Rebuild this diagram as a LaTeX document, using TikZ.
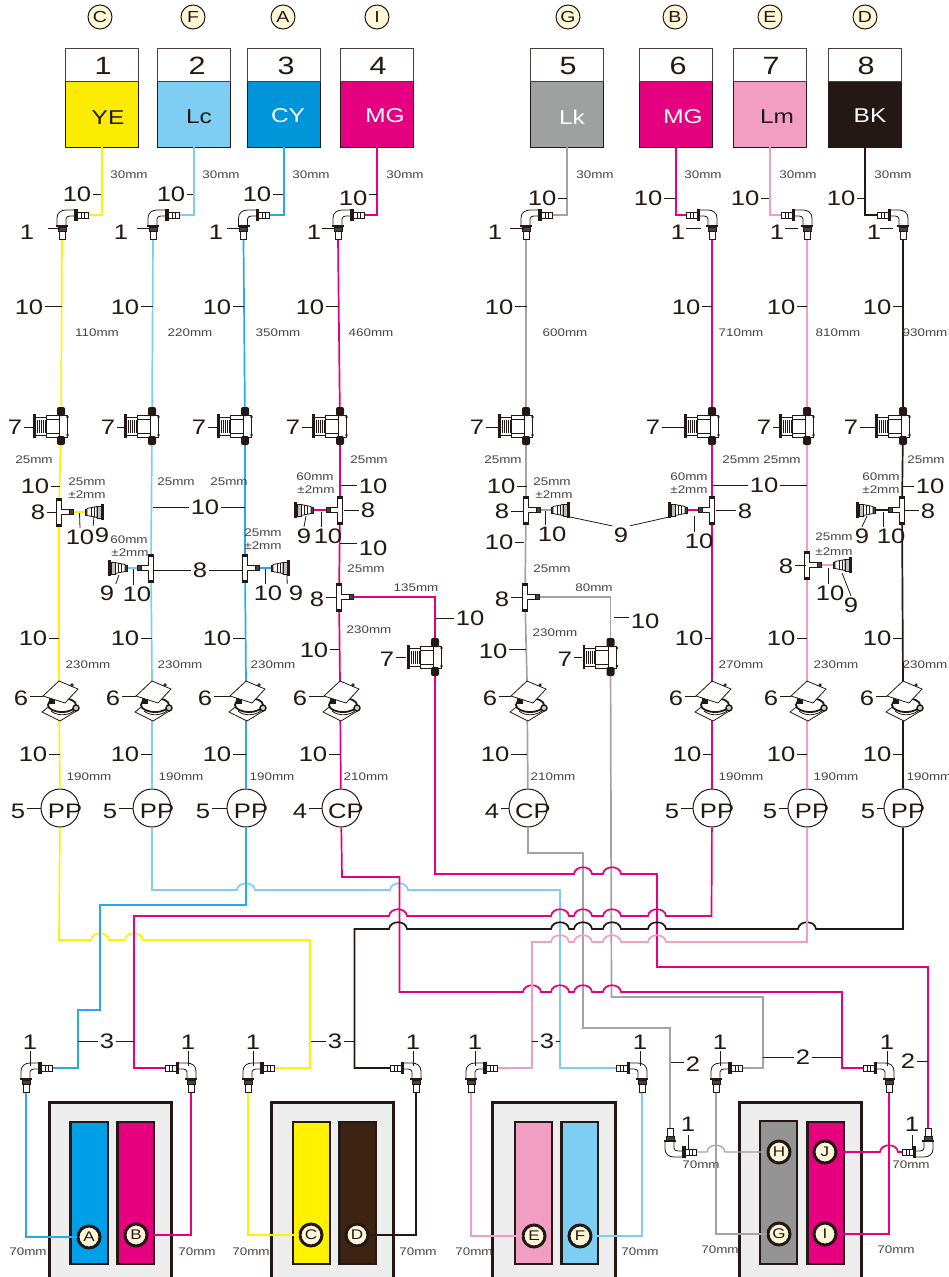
\documentclass[tikz,border=0pt]{standalone}
\usepackage{fontspec}
\setmainfont{Liberation Sans}
\newfontfamily\lab[FakeStretch=1.22]{Liberation Sans}
\definecolor{ink}{HTML}{231815}
\definecolor{soft}{HTML}{4A4040}
\definecolor{cye}{HTML}{FFF100}
\definecolor{clc}{HTML}{7ECEF4}
\definecolor{ccy}{HTML}{29ABE2}
\definecolor{cmg}{HTML}{E6007F}
\definecolor{cgr}{HTML}{A3A3A3}
\definecolor{cpk}{HTML}{F19EC2}
\definecolor{cream}{HTML}{FFF8D8}
\newcounter{lbn}
\tikzset{
 big/.style={font=\lab\fontsize{21}{21}\selectfont,text=ink,inner sep=1.5pt},
 tnum/.style={font=\lab\fontsize{25}{25}\selectfont,text=ink,inner sep=0pt},
 small/.style={font=\lab\fontsize{11}{11}\selectfont,text=soft,inner sep=0pt},
 lead/.style={draw=ink,line width=.8pt},
 pipe/.style={line width=1.7pt,line join=miter},
 ft/.style={draw=ink,line width=.8pt},
 pumpc/.style={circle,draw=ink,line width=1pt,fill=white,minimum size=38pt,inner sep=0pt},
 tagc/.style={circle,draw=ink,line width=1pt,fill=cream,minimum size=24pt,inner sep=0pt,font=\lab\fontsize{16}{16}\selectfont,text=ink},
 slotc/.style={circle,draw=ink,line width=3pt,fill=cream,minimum size=22pt,inner sep=0pt,font=\lab\fontsize{14}{14}\selectfont,text=ink},
 tankc/.style={draw=ink,line width=.9pt,minimum width=73pt,minimum height=66pt,inner sep=0pt},
 tanktop/.style={draw=soft,line width=.9pt,fill=white,minimum width=73pt,minimum height=33pt,inner sep=0pt},
 tanktxt/.style={font=\lab\fontsize{20}{20}\selectfont,inner sep=0pt},
 slot/.style={draw=ink,line width=2.6pt},
 casee/.style={draw=ink,line width=3pt,fill=black!7}
}
\newcommand\mm[3]{\stepcounter{lbn}\node[small] (mm\thelbn) at (#1,#2) {#3};}
\newcommand\lead[6]{\stepcounter{lbn}\node[big] (lb\thelbn) at (#1,#2) {#3};\coordinate (le\thelbn) at (#5,#6);\draw[lead] (lb\thelbn.#4 |- le\thelbn) -- (le\thelbn);}
\newcommand\leadV[5]{\stepcounter{lbn}\node[big] (lb\thelbn) at (#1,#2) {#3};\coordinate (le\thelbn) at (#1,#5);\coordinate (ls\thelbn) at (#1,#4);\draw[lead] (ls\thelbn) -- (le\thelbn);}
\newcommand\leadG[5]{\stepcounter{lbn}\node[big] (lb\thelbn) at (#1,232) {#2};\coordinate (ls\thelbn) at (#3,#5);\coordinate (le\thelbn) at (#4,#5);\draw[lead] (ls\thelbn) -- (le\thelbn);}
\newcommand\hopR[2]{-- ({#1-9},#2) .. controls ({#1-8},{#2-9}) and ({#1+8},{#2-9}) .. ({#1+9},#2)}
\newcommand\hopL[2]{-- ({#1+9},#2) .. controls ({#1+8},{#2-9}) and ({#1-8},{#2-9}) .. ({#1-9},#2)}
\newcommand\elbow[5]{\begin{scope}[shift={(#2,#3)},xscale=#4,yscale=#5]
 \draw[ft,fill=white] (14,-5) -- (4,-5) .. controls (-1,-5) and (-5,-2) .. (-5,3) -- (-5,11) -- (4,11) -- (4,4) .. controls (4,2) and (6,1) .. (8,1) -- (14,1) -- cycle;
 \draw[ft,fill=white] (14,-3) rectangle (26,3);
 \fill[ink] (12,-6) rectangle (15.5,6);
 \draw[ink,line width=.7pt] (19,-3) -- (19,3) (22,-3) -- (22,3);
 \fill[ink] (-6,10) rectangle (6,12);
 \draw[ft,fill=soft] (-4,12) rectangle (4,16);
 \draw[ft,fill=white] (-3,16) rectangle (3,24);
\end{scope}}
\newcommand\damper[2]{\begin{scope}[shift={(#1,#2)}]
 \draw[ft,fill=white] (-15,-11) rectangle (6,11);
 \draw[ink,line width=.7pt] (-15,-7) -- (-2,-7) (-15,7) -- (-2,7) (-2,-11) -- (-2,11);
 \draw[ft,fill=white] (-26,-9) rectangle (-15,9);
 \foreach \s in {-24,-22,-20,-18,-16}{\draw[ink,line width=1pt] (\s,-6.5) -- (\s,6.5);}
 \fill[ink] (-28,-12) rectangle (-25.5,12);
 \fill[ink,rounded corners=2pt] (-4,-19) rectangle (4,-10);
 \fill[ink,rounded corners=2pt] (-4,10) rectangle (4,19);
 \fill[ink] (6.5,-9) circle (1.4);\fill[ink] (6.5,9) circle (1.4);
\end{scope}}
\newcommand\teep[3]{\begin{scope}[shift={(#1,#2)},xscale=#3]
 \draw[ft,fill=white] (0,-2.5) rectangle (10,2.5);
 \draw[draw=ink,line width=1pt,fill=soft] (10,-2.5) rectangle (14,2.5);
 \draw[draw=ink,line width=1pt,fill=white] (-2.5,-14) rectangle (2.5,14);
 \fill[ink] (-2.8,-14.5) rectangle (2.8,-11.5);\fill[ink] (-2.8,11.5) rectangle (2.8,14.5);
 \fill[white] (-1.6,-2) -- (3,-2) -- (5,0) -- (3,2) -- (-1.6,2) -- cycle;
\end{scope}}
\newcommand\capp[3]{\begin{scope}[shift={(#1,#2)},xscale=#3]
 \draw[ft,fill=soft] (0,-3) rectangle (2,3);
 \draw[ft,fill=white] (2,-3.5) -- (12,-5.5) -- (12,5.5) -- (2,3.5) -- cycle;
 \draw[ink,line width=.6pt] (6,-4.2) -- (6,4.2) (9,-5) -- (9,5);
 \draw[ft,fill=black!25] (12,-6) rectangle (16,6);
 \fill[ink] (16,-8) rectangle (19,8);
\end{scope}}
\newcommand\valve[2]{\begin{scope}[shift={(#1,#2)}]
 \draw[ft,fill=white] (-17,31) -- (-7,23) -- (10,23) -- (19,29) -- (1,40) -- cycle;
 \draw[draw=ink,line width=1.8pt,fill=white] (3,24) ellipse (14 and 7);
 \draw[ink,line width=.8pt] (-8,30) .. controls (-2,35) and (8,35) .. (15,30);
 \draw[draw=ink,line width=1.4pt,fill=black!20] (17,27) circle (3);
 \fill[ink] (-10,17) rectangle (-4,23);
 \draw[ft,fill=white] (0,0) -- (19,8) -- (6,22) -- (-16,15) -- cycle;
 \draw[ft,fill=white] (13,4) circle (1.2);
\end{scope}}
\begin{document}
\begin{tikzpicture}[x=1pt,y=-1pt]
\useasboundingbox (0,0) rectangle (949,1277);
\clip (0,0) rectangle (949,1277);
% tags
\foreach \n/\xx/\tt in {a/100/C,b/193/F,c/283/A,d/377/I,e/568/G,f/675/B,g/770/E,h/865/D}{\node[tagc] (tag\n) at (\xx,17) {\tt};}
% tanks
\foreach \n/\xx/\nx/\num/\col in {1/102/103/1/FAEB00,2/194/197/2/7ECEF4,3/284/286/3/0095D9,4/377/378/4/E4007F,5/567/568/5/9FA0A0,6/676/678/6/E4007F,7/770/771/7/F19EC2,8/865/866/8/231815}{
 \definecolor{tk}{HTML}{\col}
 \node[tankc,fill=tk] (t\n) at (\xx,114) {};
 \node[tanktop] (n\n) at (\xx,64.5) {};
 \node[tnum] (nn\n) at (\nx,66) {\num};
}
\node[tanktxt,text=ink] (tx1) at (108,118) {YE};
\node[tanktxt,text=ink] (tx2) at (199,117) {Lc};
\node[tanktxt,text=white] (tx3) at (288,116) {CY};
\node[tanktxt,text=white] (tx4) at (385,116) {MG};
\node[tanktxt,text=white] (tx5) at (572,117) {Lk};
\node[tanktxt,text=white] (tx6) at (683,117) {MG};
\node[tanktxt,text=ink] (tx7) at (777,117) {Lm};
\node[tanktxt,text=white] (tx8) at (870,116) {BK};
% anchors of components
\foreach \n/\xx/\xs in {1/62/1,2/153/1,3/243.5/1,4/338/1,5/526/1,6/712/-1,7/807/-1,8/903/-1}{\coordinate (e\n-h) at ({\xx+26*\xs},215);\coordinate (e\n-v) at (\xx,239);}
\foreach \n/\xx in {1/61,2/152,3/245,4/340,5/526,6/712,7/807,8/903,9/435,10/610.5}{\coordinate (d\n) at (\xx,{\n>8 ? 657 : 426});}
\coordinate (T1) at (59,512);\coordinate (T2) at (151,568);\coordinate (T3) at (245,568);\coordinate (T4) at (340,510);\coordinate (T5) at (526,510);\coordinate (T6) at (712,510);\coordinate (T7) at (807,565);\coordinate (T8) at (902,510);\coordinate (T4b) at (339,597);\coordinate (T5b) at (525,597);
\coordinate (c1) at (85,512);\coordinate (c2) at (127,568);\coordinate (c3) at (271,568);\coordinate (c4) at (313,510);\coordinate (c5) at (551,510);\coordinate (c6) at (687,510);\coordinate (c7) at (833,565);\coordinate (c8) at (875,510);
\foreach \n/\xx in {1/59,2/152,3/246,4/340,5/527,6/712,7/807,8/903}{\coordinate (v\n) at (\xx,681);}
\foreach \n/\xx in {1/60,2/152,3/246,4/341,5/528,6/712,7/807,8/903}{\node[pumpc] (p\n) at (\xx,808) {};}
% bottom cases
\draw[casee] (49,1102) rectangle (171,1285);
\draw[casee] (271,1102) rectangle (393,1285);
\draw[casee] (492,1102) rectangle (615,1285);
\draw[casee] (739,1102) rectangle (861,1285);
\draw[slot,fill={rgb,255:red,0;green,160;blue,233}] (70.5,1122) rectangle (108,1264);
\draw[slot,fill=cmg] (117.5,1122) rectangle (154,1264);
\draw[slot,fill=cye] (293,1122) rectangle (330,1264);
\draw[slot,fill={rgb,255:red,62;green,35;blue,18}] (339.5,1122) rectangle (376,1264);
\draw[slot,fill=cpk] (515,1122) rectangle (552,1264);
\draw[slot,fill=clc] (561.5,1122) rectangle (598,1264);
\draw[slot,fill=black!42] (760,1121) rectangle (797,1264);
\draw[slot,fill=cmg] (807.5,1122) rectangle (844,1264);
\node[slotc] (sA) at (89,1237) {A};\node[slotc] (sB) at (136,1235) {B};
\node[slotc] (sC) at (311,1235) {C};\node[slotc] (sD) at (357,1235) {D};
\node[slotc] (sE) at (534,1236) {E};\node[slotc] (sF) at (580,1236) {F};
\node[slotc] (sH) at (779,1152) {H};\node[slotc] (sJ) at (825,1152) {J};
\node[slotc] (sG) at (779,1234) {G};\node[slotc] (sI) at (825,1234) {I};
% bottom elbow anchors
\coordinate (eA-h) at (51,1068);\coordinate (eA-v) at (26,1092);
\coordinate (eB-h) at (167,1068);\coordinate (eB-v) at (191,1092);
\coordinate (eC-h) at (273,1068);\coordinate (eC-v) at (248,1092);
\coordinate (eD-h) at (391,1068);\coordinate (eD-v) at (416,1092);
\coordinate (eE-h) at (496,1068);\coordinate (eE-v) at (471,1092);
\coordinate (eF-h) at (617,1068);\coordinate (eF-v) at (642,1092);
\coordinate (eG-h) at (741,1068);\coordinate (eG-v) at (716,1092);
\coordinate (eI-h) at (864,1068);\coordinate (eI-v) at (889,1092);
\coordinate (eH-h) at (695,1152);\coordinate (eH-v) at (670,1128);
\coordinate (eJ-h) at (903,1152);\coordinate (eJ-v) at (928,1128);
% PIPES
\draw[pipe,cye] (t1.south) |- (e1-h);
\draw[pipe,clc] (t2.south) |- (e2-h);
\draw[pipe,ccy] (t3.south) |- (e3-h);
\draw[pipe,cmg] (t4.south) |- (e4-h);
\draw[pipe,cgr] (t5.south) |- (e5-h);
\draw[pipe,cmg] (t6.south) |- (e6-h);
\draw[pipe,cpk] (t7.south) |- (e7-h);
\draw[pipe,ink] (t8.south) |- (e8-h);
\draw[pipe,cye] (e1-v) -- (d1) -- (T1) -- (v1) -- (p1);
\draw[pipe,clc] (e2-v) -- (d2) -- (T2) -- (v2) -- (p2);
\draw[pipe,ccy] (e3-v) -- (d3) -- (T3) -- (v3) -- (p3);
\draw[pipe,cmg] (e4-v) -- (d4) -- (T4) -- (T4b) -- (v4) -- (p4);
\draw[pipe,cgr] (e5-v) -- (d5) -- (T5) -- (T5b) -- (v5) -- (p5);
\draw[pipe,cmg] (e6-v) -- (d6) -- (T6) -- (v6) -- (p6);
\draw[pipe,cpk] (e7-v) -- (d7) -- (T7) -- (v7) -- (p7);
\draw[pipe,ink] (e8-v) -- (d8) -- (T8) -- (v8) -- (p8);
% trunk routing
\draw[pipe,cgr] (p5) |- (583,853) -- (583,1028) -| (eH-v);
\draw[pipe,cgr] (d10) -- (611.5,997) -- (763,997) -- (763,1068) -- (eG-h);
\draw[pipe,cye] (p1) -- (59,940) \hopR{100}{940} \hopR{134}{940} -- (310,940) -- (310,1068) -- (eC-h);
\draw[pipe,clc] (p2) -- (152,890) \hopR{246}{890} \hopR{399}{890} -- (560,890) -- (560,1068) -- (eF-h);
\draw[pipe,ccy] (p3) -- (246,905) -- (100,905) -- (100,1010) -- (78,1010) -- (78,1068) -- (eA-h);
\draw[pipe,cmg] (p4) -- (342,877) -- (399.5,877) -- (399.5,992) \hopR{532}{992} \hopR{560}{992} \hopR{583}{992} \hopR{612}{992} -- (842,992) -- (842,1068) -- (eI-h);
\draw[pipe,cmg] (d9) -- (435,874) \hopR{583}{874} \hopR{612}{874} -- (657,874) -- (657,967) -- (928,967) -- (eJ-v);
\draw[pipe,cmg] (p6) -- (711.5,916) \hopL{657}{916} \hopL{612}{916} \hopL{583}{916} \hopL{560}{916} \hopL{398}{916} -- (134,916) -- (134,1068) -- (eB-h);
\draw[pipe,ink] (p8) -- (903,929) \hopL{807}{929} \hopL{657}{929} \hopL{612}{929} \hopL{583}{929} \hopL{560}{929} \hopL{398}{929} -- (354.5,929) -- (354.5,1068) -- (eD-h);
\draw[pipe,cpk] (p7) -- (807,942) \hopL{657}{942} \hopL{612}{942} \hopL{583}{942} \hopL{560}{942} -- (532,942) -- (532,1068) -- (eE-h);
% branches
\draw[pipe,cye] (T1) -- (c1);
\draw[pipe,clc] (T2) -- (c2);
\draw[pipe,ccy] (T3) -- (c3);
\draw[pipe,cmg] (T4) -- (c4);
\draw[pipe,cgr] (T5) -- (c5);
\draw[pipe,cmg] (T6) -- (c6);
\draw[pipe,cpk] (T7) -- (c7);
\draw[pipe,ink] (T8) -- (c8);
\draw[pipe,cmg] (T4b) -| (d9);
\draw[pipe,cgr] (T5b) -| (d10);
% lower runs
\draw[pipe,ccy] (eA-v) |- (sA.west);
\draw[pipe,cmg] (eB-v) |- (sB.east);
\draw[pipe,cye] (eC-v) |- (sC.west);
\draw[pipe,ink] (eD-v) |- (sD.east);
\draw[pipe,cpk] (eE-v) |- (sE.west);
\draw[pipe,clc] (eF-v) |- (sF.east);
\draw[pipe,cgr] (eG-v) |- (sG.west);
\draw[pipe,cmg] (eI-v) |- (sI.east);
\draw[pipe,cgr,line width=1.3pt] (eH-h) \hopR{716}{1152} -- (sH.west);
\draw[pipe,cmg] (eJ-h) \hopL{889}{1152} -- (sJ.east);
% COMPONENTS
\elbow{x1}{62}{215}{1}{1}\elbow{x2}{153}{215}{1}{1}\elbow{x3}{243.5}{215}{1}{1}\elbow{x4}{338}{215}{1}{1}\elbow{x5}{526}{215}{1}{1}\elbow{x6}{712}{215}{-1}{1}\elbow{x7}{807}{215}{-1}{1}\elbow{x8}{903}{215}{-1}{1}
\elbow{xA}{26}{1068}{1}{1}\elbow{xB}{191}{1068}{-1}{1}\elbow{xC}{248}{1068}{1}{1}\elbow{xD}{416}{1068}{-1}{1}\elbow{xE}{471}{1068}{1}{1}\elbow{xF}{642}{1068}{-1}{1}\elbow{xG}{716}{1068}{1}{1}\elbow{xI}{889}{1068}{-1}{1}\elbow{xH}{670}{1152}{1}{-1}\elbow{xJ}{928}{1152}{-1}{-1}
\damper{61}{426}\damper{152}{426}\damper{245}{426}\damper{340}{426}\damper{526}{426}\damper{712}{426}\damper{807}{426}\damper{903}{426}\damper{435}{657}\damper{610.5}{657}
\teep{59}{512}{1}\teep{151}{568}{-1}\teep{245}{568}{1}\teep{340}{510}{-1}\teep{526}{510}{1}\teep{712}{510}{-1}\teep{807}{565}{1}\teep{902}{510}{-1}\teep{339}{597}{1}\teep{525}{597}{1}
\capp{85}{512}{1}\capp{127}{568}{-1}\capp{271}{568}{1}\capp{313}{510}{-1}\capp{551}{510}{1}\capp{687}{510}{-1}\capp{833}{565}{1}\capp{875}{510}{-1}
\foreach \xx in {59,152,246,340,527,712,807,903}{\valve{\xx}{681}}
% pump letters
\foreach \n/\xx/\tt in {1/65/PP,2/157/PP,3/251/PP,4/346/CP,5/533/CP,6/717/PP,7/812/PP,8/908/PP}{\node[big] (pt\n) at (\xx,811) {\tt};}
% LABELS: top row
\foreach \xx/\yy in {129/175,221/175,311/175,405/175,595/175,703/175,798/175,893/175}{\mm{\xx}{\yy}{30mm}}
\lead{77}{194}{10}{east}{101}{194}\lead{171}{194}{10}{east}{193}{194}\lead{257}{194}{10}{east}{283}{194}\lead{353}{198}{10}{east}{377}{194.5}
\lead{542}{198}{10}{east}{567}{198}\lead{648}{198}{10}{east}{675}{198}\lead{745}{198}{10}{east}{769}{198}\lead{841}{198}{10}{east}{865}{198}
\leadG{27}{1}{48}{60}{228}\leadG{121}{1}{137}{150}{228}\leadG{216}{1}{227}{240}{228}\leadG{314}{1}{322}{335}{228}\leadG{495}{1}{510}{524}{228}\leadG{678}{1}{686}{701}{228}\leadG{777}{1}{785}{798}{228}\leadG{874}{1}{880}{893}{228}
\lead{29}{307}{10}{east}{62}{306}\lead{125}{307}{10}{east}{153}{306}\lead{217}{307}{10}{east}{244}{306}\lead{310}{307}{10}{east}{339}{306}\lead{499}{307}{10}{east}{527}{306}\lead{686}{307}{10}{east}{712}{306}\lead{781}{307}{10}{east}{807}{306}\lead{877}{307}{10}{east}{903}{306}
\mm{97}{333}{110mm}\mm{190}{333}{220mm}\mm{278}{333}{350mm}\mm{371}{333}{460mm}\mm{565}{333}{600mm}\mm{741}{333}{710mm}\mm{838}{333}{810mm}\mm{925}{333}{930mm}
\lead{15}{427}{7}{east}{33}{427}\lead{108}{427}{7}{east}{124}{427}\lead{199}{427}{7}{east}{217}{427}\lead{293}{427}{7}{east}{312}{427}\lead{477}{427}{7}{east}{498}{427}\lead{653}{427}{7}{east}{684}{427}\lead{764}{427}{7}{east}{779}{427}\lead{851}{427}{7}{east}{875}{427}
% T zone left
\mm{34}{460}{25mm}\mm{87}{482}{25mm}\mm{87}{495}{±2mm}
\lead{35}{486}{10}{east}{60}{486}\lead{38}{512}{8}{east}{57}{512}
\node[big] (a10) at (80,537) {10};\coordinate (a10e) at (79.5,513);\draw[lead] (a10e) -- (a10.north);
\node[big] (a9) at (102,535) {9};\coordinate (a9e) at (94,516);\draw[lead] (a9e) -- (a9.north west);
\mm{176}{482}{25mm}\mm{229}{482}{25mm}
\node[big] (b10) at (205,507) {10};\coordinate (b10l) at (152.5,507);\coordinate (b10r) at (245,507);\draw[lead] (b10.west) -- (b10l);\draw[lead] (b10.east) -- (b10r);
\mm{129}{540}{60mm}\mm{130}{553}{±2mm}
\node[big] (b8) at (200,570) {8};\coordinate (b8l) at (154,570);\coordinate (b8r) at (242,570);\draw[lead] (b8.west) -- (b8l);\draw[lead] (b8.east) -- (b8r);
\node[big] (b9) at (107,593) {9};\coordinate (b9e) at (119,575);\draw[lead] (b9e) -- (b9.north east);
\node[big] (b10b) at (137,594) {10};\coordinate (b10c) at (133.5,569);\draw[lead] (b10c) -- (b10b.north -| b10c);
\mm{263}{533}{25mm}\mm{263}{546}{±2mm}
\node[big] (c10) at (268,593) {10};\coordinate (c10e) at (265,569);\draw[lead] (c10e) -- (c10.north -| c10e);
\node[big] (c9) at (296,593) {9};\coordinate (c9e) at (287,575);\draw[lead] (c9e) -- (c9.north west);
% col 4
\mm{369}{460}{25mm}\mm{315}{477}{60mm}\mm{316}{490}{±2mm}
\lead{373}{486}{10}{west}{341}{485}\lead{368}{510}{8}{west}{344}{510}
\node[big] (d9l) at (304,536) {9};\coordinate (d9e) at (306,516);\draw[lead] (d9e) -- (d9l.north);
\node[big] (d10l) at (328,536) {10};\coordinate (d10e) at (321.5,512);\draw[lead] (d10e) -- (d10l.north -| d10e);
\lead{373}{548}{10}{west}{340}{543}\mm{366}{569}{25mm}
\lead{317}{599}{8}{east}{336}{597}\mm{416}{588}{135mm}
\lead{470}{618}{10}{west}{436}{618}\mm{369}{630}{230mm}
\lead{314}{650}{10}{east}{340}{649}\lead{387}{659}{7}{east}{406}{657}
% col 5
\mm{503}{460}{25mm}\lead{501}{486}{10}{east}{527}{486}\mm{552}{482}{25mm}\mm{554}{495}{±2mm}
\lead{502}{511}{8}{east}{524}{511}
\node[big] (e10) at (552,534) {10};\coordinate (e10e) at (545,511);\draw[lead] (e10e) -- (e10.north -| e10e);
\node[big] (e9) at (621,535) {9};\coordinate (e9l) at (570,517);\coordinate (e9r) at (669,517);\draw[lead] (e9l) -- (e9.north west);\draw[lead] (e9.north east) -- (e9r);
\lead{499}{542}{10}{east}{524}{542}\mm{552}{569}{25mm}
\lead{502}{599}{8}{east}{523}{597}\mm{594}{588}{80mm}
\lead{645}{621}{10}{west}{614}{617}\mm{555}{633}{230mm}
\lead{493}{651}{10}{east}{526}{649}\lead{565}{659}{7}{east}{582}{657}
% col 6
\mm{741}{460}{25mm}\mm{689}{477}{60mm}\mm{689}{490}{±2mm}
\node[big] (f10) at (764,485) {10};\coordinate (f10l) at (713,485);\coordinate (f10r) at (807,485);\draw[lead] (f10.west) -- (f10l);\draw[lead] (f10.east) -- (f10r);
\lead{745}{511}{8}{west}{716}{510}
\node[big] (f10b) at (699,541) {10};\coordinate (f10c) at (694,516);\draw[lead] (f10c) -- (f10b.north -| f10c);
% col 7
\mm{782}{460}{25mm}\lead{786}{566}{8}{east}{806}{565}\mm{834}{537}{25mm}\mm{834}{552}{±2mm}
\node[big] (g10) at (830,593) {10};\coordinate (g10e) at (828,568);\draw[lead] (g10e) -- (g10.north -| g10e);
\node[big] (g9) at (851,605) {9};\coordinate (g9e) at (842,573);\draw[lead] (g9e) -- (g9.north);
% col 8
\mm{926}{460}{25mm}\mm{881}{477}{60mm}\mm{881}{490}{±2mm}
\lead{930}{486}{10}{west}{903}{486}\lead{928}{511}{8}{west}{905}{510}
\node[big] (h9) at (862,536) {9};\coordinate (h9e) at (867,516);\draw[lead] (h9e) -- (h9.north);
\node[big] (h10) at (891,536) {10};\coordinate (h10e) at (883,512);\draw[lead] (h10e) -- (h10.north -| h10e);
% lower rows
\lead{33}{638}{10}{east}{59}{638}\lead{125}{638}{10}{east}{152}{638}\lead{217}{638}{10}{east}{245}{638}\lead{689}{638}{10}{east}{712}{638}\lead{781}{638}{10}{east}{807}{638}\lead{877}{638}{10}{east}{903}{638}
\mm{88}{665}{230mm}\mm{180}{665}{230mm}\mm{273}{665}{230mm}\mm{741}{665}{270mm}\mm{836}{665}{230mm}\mm{925}{665}{230mm}
\lead{21}{698}{6}{east}{43}{696}\lead{113}{698}{6}{east}{136}{696}\lead{205}{698}{6}{east}{230}{696}\lead{300}{698}{6}{east}{324}{696}\lead{490}{698}{6}{east}{511}{696}\lead{676}{698}{6}{east}{696}{696}\lead{771}{698}{6}{east}{791}{696}\lead{867}{698}{6}{east}{887}{696}
\lead{33}{754}{10}{east}{60}{754}\lead{125}{754}{10}{east}{152}{754}\lead{217}{754}{10}{east}{246}{754}\lead{313}{754}{10}{east}{340}{754}\lead{495}{754}{10}{east}{527}{754}\lead{687}{754}{10}{east}{712}{754}\lead{781}{754}{10}{east}{807}{754}\lead{877}{754}{10}{east}{903}{754}
\mm{89}{777}{190mm}\mm{181}{777}{190mm}\mm{272}{777}{190mm}\mm{366}{777}{210mm}\mm{553}{777}{210mm}\mm{741}{777}{190mm}\mm{836}{777}{190mm}\mm{929}{777}{190mm}
\lead{18}{811}{5}{east}{41}{808}\lead{110}{811}{5}{east}{133}{808}\lead{203}{811}{5}{east}{227}{808}\lead{300}{811}{4}{east}{322}{808}\lead{492}{811}{4}{east}{509}{808}\lead{672}{811}{5}{east}{693}{808}\lead{770}{811}{5}{east}{788}{808}\lead{868}{811}{5}{east}{884}{808}
% bottom labels
\leadV{30}{1042}{1}{1051}{1066}\leadV{188}{1042}{1}{1051}{1066}\leadV{253}{1042}{1}{1051}{1066}\leadV{413}{1042}{1}{1051}{1066}\leadV{475}{1042}{1}{1051}{1066}\leadV{640}{1042}{1}{1051}{1066}\leadV{720}{1042}{1}{1051}{1066}\leadV{887}{1042}{1}{1051}{1066}
\leadV{688}{1124}{1}{1135}{1150}\leadV{912}{1124}{1}{1135}{1150}
\node[big] (k1) at (107,1041) {3};\coordinate (k1l) at (78,1041);\coordinate (k1r) at (134,1041);\draw[lead] (k1.west) -- (k1l);\draw[lead] (k1.east) -- (k1r);
\node[big] (k2) at (335,1041) {3};\coordinate (k2l) at (311,1041);\coordinate (k2r) at (355,1041);\draw[lead] (k2.west) -- (k2l);\draw[lead] (k2.east) -- (k2r);
\node[big] (k3) at (547,1041) {3};\coordinate (k3l) at (532,1041);\coordinate (k3r) at (560,1041);\draw[lead] (k3.west) -- (k3l);\draw[lead] (k3.east) -- (k3r);
\lead{693}{1064}{2}{west}{671}{1062}
\node[big] (k4) at (803,1057) {2};\coordinate (k4l) at (763,1057);\coordinate (k4r) at (842,1057);\draw[lead] (k4.west) -- (k4l);\draw[lead] (k4.east) -- (k4r);
\lead{908}{1061}{2}{east}{928}{1061}
\mm{28}{1252}{70mm}\mm{197}{1252}{70mm}\mm{251}{1252}{70mm}\mm{418}{1252}{70mm}\mm{474}{1252}{70mm}\mm{640}{1252}{70mm}\mm{720}{1250}{70mm}\mm{896}{1250}{70mm}\mm{701}{1165}{70mm}\mm{911}{1165}{70mm}
\end{tikzpicture}
\end{document}
